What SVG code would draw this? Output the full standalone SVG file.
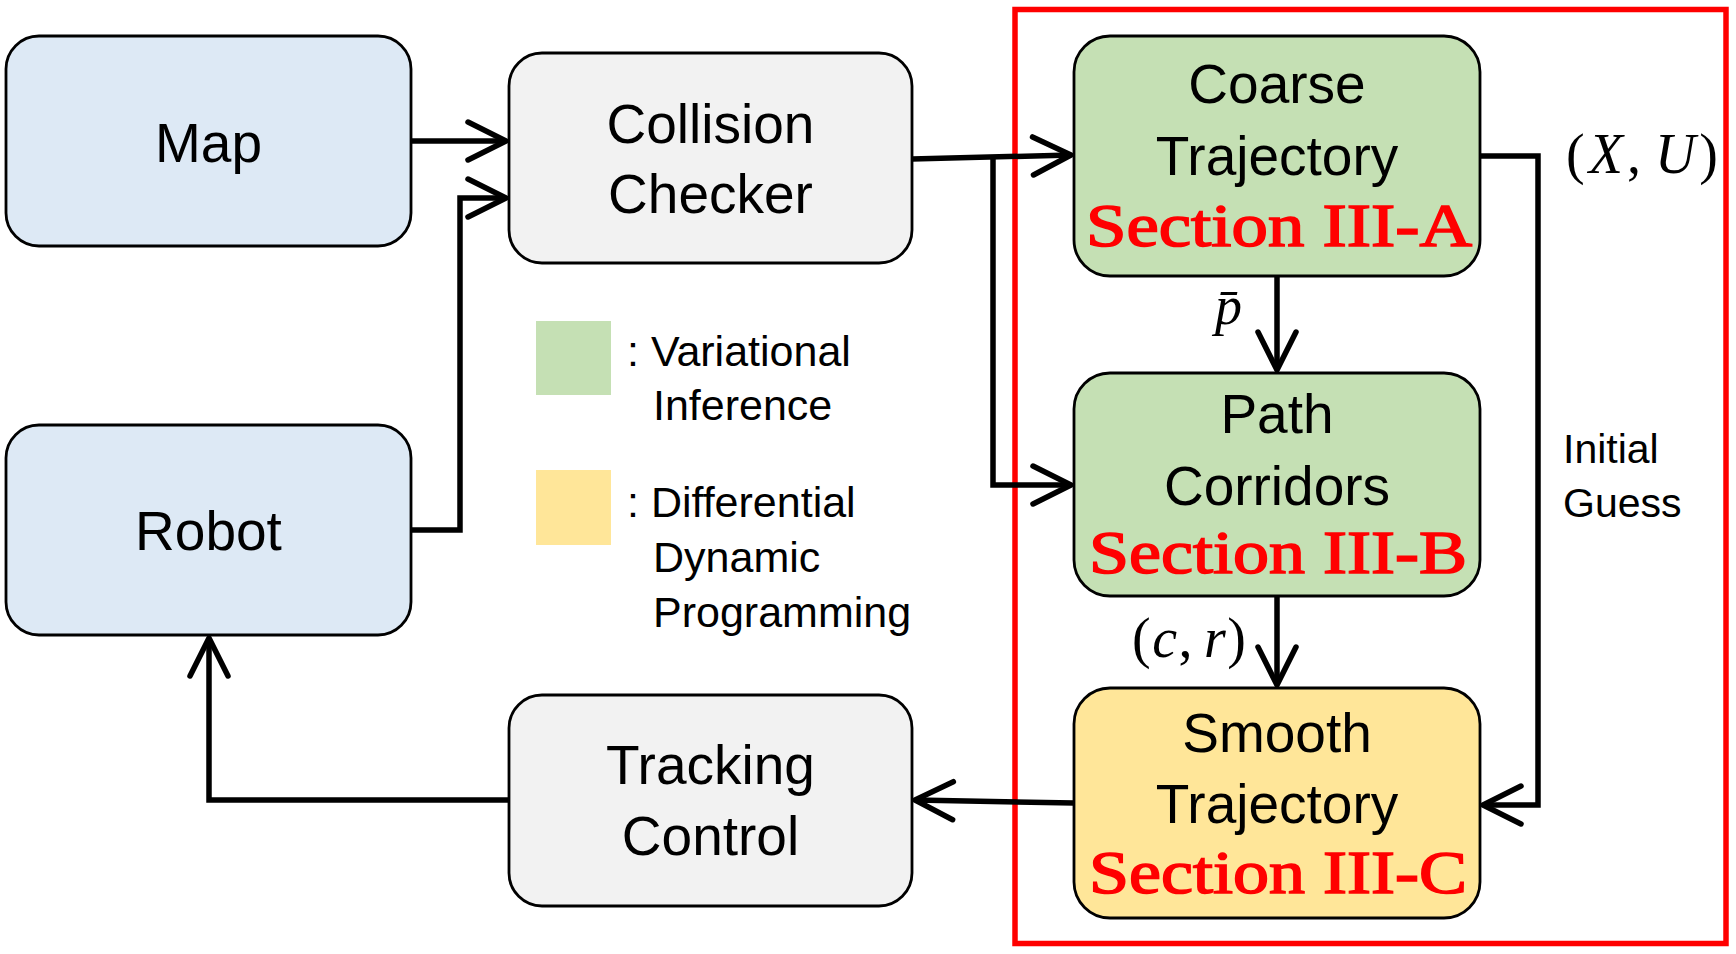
<svg xmlns="http://www.w3.org/2000/svg" width="1736" height="954" viewBox="0 0 1736 954">
<style>
.box{stroke:#000;stroke-width:2.8}
.blue{fill:#dde9f5}.gray{fill:#f2f2f2}.green{fill:#c5e0b4}.yellow{fill:#ffe699}
.t{font-family:"Liberation Sans",Arial,sans-serif;font-size:55px;fill:#000;text-anchor:middle}
.sec{font-family:"Liberation Serif","Times New Roman",serif;font-size:62px;fill:#ff0000;stroke:#ff0000;stroke-width:1.6;text-anchor:middle}
.lg{font-family:"Liberation Sans",Arial,sans-serif;font-size:43px;fill:#000}
.ig{font-family:"Liberation Sans",Arial,sans-serif;font-size:41px;fill:#000}
.m{font-family:"Liberation Serif","Times New Roman",serif;fill:#000}
.conn{fill:none;stroke:#000;stroke-width:5.5;stroke-linejoin:miter}
</style>
<defs>
<marker id="arr" markerUnits="userSpaceOnUse" markerWidth="60" markerHeight="60" viewBox="-50 -30 60 60" refX="0" refY="0" orient="auto" overflow="visible">
<path d="M-38,-19 L0,0 L-38,19" fill="none" stroke="#000" stroke-width="5.5" stroke-linecap="round" stroke-linejoin="round"/>
</marker>
</defs>
<rect width="1736" height="954" fill="#fff"/>
<rect id="frame" x="1015" y="9.5" width="711" height="934" fill="none" stroke="#ff0000" stroke-width="5.5"/>

<g id="legend">
<rect x="536" y="321" width="75" height="74" class="green"/>
<rect x="536" y="470" width="75" height="75" class="yellow"/>
<text class="lg" x="627" y="366">: Variational</text>
<text class="lg" x="653" y="420">Inference</text>
<text class="lg" x="627" y="517">: Differential</text>
<text class="lg" x="653" y="572">Dynamic</text>
<text class="lg" x="653" y="627">Programming</text>
</g>

<g id="connectors">
<path class="conn" d="M411,141 H506" marker-end="url(#arr)"/>
<path class="conn" d="M411,530 H460 V198 H506" marker-end="url(#arr)"/>
<path class="conn" d="M912,159 L1071,155" marker-end="url(#arr)"/>
<path class="conn" d="M993,158 V485 H1071" marker-end="url(#arr)"/>
<path class="conn" d="M1277,276 V370" marker-end="url(#arr)"/>
<path class="conn" d="M1277,596 V685" marker-end="url(#arr)"/>
<path class="conn" d="M1480,156 H1538 V805 H1483" marker-end="url(#arr)"/>
<path class="conn" d="M1074,803 L915,800" marker-end="url(#arr)"/>
<path class="conn" d="M509,800 H209 V638" marker-end="url(#arr)"/>
<text class="m" x="1215" y="324" font-size="54" font-style="italic">p̄</text>
<text class="m" x="1132" y="657" font-size="56" textLength="114">(<tspan font-style="italic">c</tspan>,<tspan font-style="italic" dx="10">r</tspan>)</text>
<text class="m" x="1566" y="173" font-size="56" textLength="152">(<tspan font-style="italic">X</tspan>,<tspan font-style="italic" dx="10">U</tspan>)</text>
<text class="ig" x="1563" y="463">Initial</text>
<text class="ig" x="1563" y="517">Guess</text>
</g>

<g id="map">
<rect class="box blue" x="6" y="36" width="405" height="210" rx="33"/>
<text class="t" x="208.5" y="162">Map</text>
</g>
<g id="robot">
<rect class="box blue" x="6" y="425" width="405" height="210" rx="33"/>
<text class="t" x="208.5" y="550">Robot</text>
</g>
<g id="collision">
<rect class="box gray" x="509" y="53" width="403" height="210" rx="33"/>
<text class="t" x="710.5" y="143">Collision</text>
<text class="t" x="710.5" y="213">Checker</text>
</g>
<g id="tracking">
<rect class="box gray" x="509" y="695" width="403" height="211" rx="33"/>
<text class="t" x="710.5" y="784">Tracking</text>
<text class="t" x="710.5" y="855">Control</text>
</g>
<g id="coarse">
<rect class="box green" x="1074" y="36" width="406" height="240" rx="36"/>
<text class="t" x="1277" y="103">Coarse</text>
<text class="t" x="1277" y="175">Trajectory</text>
<text class="sec" x="1279" y="246" textLength="386" lengthAdjust="spacingAndGlyphs">Section III-A</text>
</g>
<g id="path">
<rect class="box green" x="1074" y="373" width="406" height="223" rx="36"/>
<text class="t" x="1277" y="433">Path</text>
<text class="t" x="1277" y="505">Corridors</text>
<text class="sec" x="1278" y="573" textLength="378" lengthAdjust="spacingAndGlyphs">Section III-B</text>
</g>
<g id="smooth">
<rect class="box yellow" x="1074" y="688" width="406" height="230" rx="36"/>
<text class="t" x="1277" y="752">Smooth</text>
<text class="t" x="1277" y="823">Trajectory</text>
<text class="sec" x="1278" y="893" textLength="378" lengthAdjust="spacingAndGlyphs">Section III-C</text>
</g>
</svg>
